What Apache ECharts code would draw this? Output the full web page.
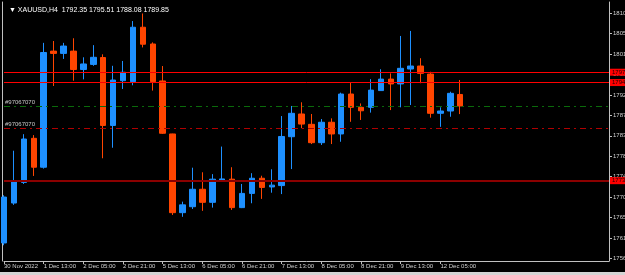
<!DOCTYPE html>
<html>
<head>
<meta charset="utf-8">
<script src="https://cdn.jsdelivr.net/npm/echarts@6/dist/echarts.min.js"></script>
<style>
    html, body { margin: 0; padding: 0; background: #000; }
    #chart { width: 625px; height: 275px; }
</style>
</head>
<body>
<div id="chart"></div>
<script>
// H4 bars, XAUUSD
var barTimes = [
    '30 Nov 21:00',
    '1 Dec 01:00', '1 Dec 05:00', '1 Dec 09:00', '1 Dec 13:00', '1 Dec 17:00', '1 Dec 21:00',
    '2 Dec 01:00', '2 Dec 05:00', '2 Dec 09:00', '2 Dec 13:00', '2 Dec 17:00', '2 Dec 21:00',
    '5 Dec 01:00', '5 Dec 05:00', '5 Dec 09:00', '5 Dec 13:00', '5 Dec 17:00', '5 Dec 21:00',
    '6 Dec 01:00', '6 Dec 05:00', '6 Dec 09:00', '6 Dec 13:00', '6 Dec 17:00', '6 Dec 21:00',
    '7 Dec 01:00', '7 Dec 05:00', '7 Dec 09:00', '7 Dec 13:00', '7 Dec 17:00', '7 Dec 21:00',
    '8 Dec 01:00', '8 Dec 05:00', '8 Dec 09:00', '8 Dec 13:00', '8 Dec 17:00', '8 Dec 21:00',
    '9 Dec 01:00', '9 Dec 05:00', '9 Dec 09:00', '9 Dec 13:00', '9 Dec 17:00', '9 Dec 21:00',
    '12 Dec 01:00', '12 Dec 05:00', '12 Dec 09:00', '12 Dec 13:00'
];
var firstLabel = '30 Nov 2022';
var emptySlots = 15; // space right of the last bar

var opens = [1760.0, 1768.7, 1773.2, 1782.8, 1776.5, 1801.8, 1801.3, 1801.8, 1797.8, 1798.9,
    1800.4, 1785.6, 1795.35, 1795.15, 1807.0, 1803.35, 1795.3, 1783.75, 1766.6, 1767.9,
    1771.7, 1768.85, 1773.7, 1773.9, 1767.7, 1770.8, 1774.1, 1772.2, 1772.5, 1783.15,
    1788.1, 1785.85, 1781.85, 1786.3, 1783.75, 1792.45, 1789.55, 1789.55, 1793.2, 1795.7,
    1794.65, 1797.9, 1798.55, 1796.8, 1788.25, 1788.75, 1792.35];
var closes = [1770.0, 1773.5, 1782.65, 1776.5, 1801.5, 1801.3, 1802.9, 1797.8, 1799.0, 1800.45,
    1785.6, 1795.5, 1797.2, 1807.0, 1803.3, 1795.15, 1783.9, 1766.6, 1768.3, 1771.7,
    1768.85, 1773.9, 1773.95, 1767.7, 1770.8, 1774.1, 1772.1, 1772.6, 1783.2, 1788.25,
    1785.9, 1781.85, 1786.3, 1783.75, 1792.45, 1789.55, 1788.8, 1793.3, 1795.7, 1794.65,
    1798.05, 1798.55, 1796.95, 1788.25, 1788.75, 1792.6, 1789.85];
var lows = [1759.5, 1768.3, 1772.85, 1774.6, 1776.2, 1794.2, 1800.1, 1795.35, 1795.65, 1798.6,
    1778.45, 1780.75, 1793.55, 1794.35, 1802.6, 1793.2, 1783.75, 1766.1, 1765.7, 1767.4,
    1767.0, 1767.7, 1773.6, 1767.2, 1767.6, 1768.65, 1769.6, 1770.95, 1770.65, 1776.1,
    1785.0, 1781.55, 1781.35, 1781.55, 1782.05, 1786.4, 1786.8, 1788.4, 1793.2, 1788.95,
    1789.55, 1790.05, 1794.8, 1787.3, 1785.3, 1787.5, 1788.08];
var highs = [1770.4, 1780.1, 1783.7, 1783.5, 1803.6, 1804.0, 1803.6, 1804.6, 1800.45, 1803.1,
    1801.1, 1798.6, 1799.65, 1808.35, 1810.0, 1803.7, 1798.55, 1783.8, 1769.0, 1776.4,
    1775.4, 1775.0, 1781.0, 1776.5, 1772.85, 1775.2, 1774.65, 1776.05, 1787.65, 1789.85,
    1790.65, 1788.1, 1787.0, 1787.15, 1792.75, 1795.0, 1790.4, 1795.7, 1797.85, 1796.95,
    1805.1, 1806.2, 1800.25, 1797.3, 1789.55, 1792.95, 1795.51];

var priceTicks = [1756.65, 1761.10, 1765.55, 1770.00, 1774.45, 1778.90, 1783.35,
    1787.80, 1792.25, 1796.70, 1801.15, 1805.60, 1810.05];

var redLevels = [1797.20, 1794.95];
var supportLevel = 1773.57;
var greenDashLevel = 1789.75;
var redDashLevel = 1785.00;
var bidPrice = 1789.85;
var objName = '#97067070';
var titleText = '\u25BC XAUUSD,H4  1792.35 1795.51 1788.08 1789.85';

var FONT = '"Liberation Sans", Arial, sans-serif';
var AXIS_GRAY = '#c0c0c0';
var BULL = '#1e90ff';
var BEAR = '#ff4500';

var categories = barTimes.slice();
for (var i = 0; i < emptySlots; i++) categories.push('');

var ohlc = [];
for (var k = 0; k < barTimes.length; k++) {
    ohlc.push([opens[k], closes[k], lows[k], highs[k]]);
}

function showTick(idx) {
    return idx % 4 === 0 && idx < barTimes.length;
}

function boxLabel(bg, fg) {
    return {
        show: true,
        position: 'end',
        distance: 1,
        formatter: function (p) { return p.value.toFixed(2); },
        backgroundColor: bg,
        color: fg,
        fontSize: 6,
        fontFamily: FONT,
        padding: [1, 2, 0, 2]
    };
}

var chart = echarts.init(document.getElementById('chart'));
var option = {
    backgroundColor: '#000000',
    animation: false,
    title: {
        text: titleText,
        left: 4,
        top: 2,
        textStyle: { color: '#ffffff', fontSize: 7, fontWeight: 'normal', fontFamily: FONT }
    },
    grid: { left: 4, right: 16, top: 2, bottom: 14, outerBoundsMode: 'none', containLabel: false },
    xAxis: {
        type: 'category',
        data: categories,
        boundaryGap: false,
        axisLine: { lineStyle: { color: AXIS_GRAY } },
        axisTick: { show: true, interval: showTick, length: 3, lineStyle: { color: AXIS_GRAY } },
        axisLabel: {
            interval: showTick,
            align: 'left',
            margin: 2,
            color: '#d0d0d0',
            fontSize: 6,
            fontFamily: FONT,
            formatter: function (val, idx) { return idx === 0 ? firstLabel : val; }
        },
        splitLine: { show: false }
    },
    yAxis: [
        {
            type: 'value',
            position: 'right',
            min: 1756.07,
            max: 1812.5,
            axisLine: { show: true, lineStyle: { color: AXIS_GRAY } },
            axisTick: { show: true, length: 3, customValues: priceTicks, lineStyle: { color: AXIS_GRAY } },
            axisLabel: {
                customValues: priceTicks,
                margin: 4,
                color: '#d0d0d0',
                fontSize: 6,
                fontFamily: FONT,
                formatter: function (v) { return v.toFixed(2); }
            },
            splitLine: { show: false }
        },
        {
            // left frame line
            type: 'value',
            position: 'left',
            offset: 2,
            min: 1756.07,
            max: 1812.5,
            axisLine: { show: true, lineStyle: { color: AXIS_GRAY } },
            axisTick: { show: false },
            axisLabel: { show: false },
            splitLine: { show: false }
        }
    ],
    graphic: [
        { type: 'rect', left: 0, bottom: 0, shape: { width: 625, height: 3 }, style: { fill: '#d4d4d4' } }
    ],
    series: [
        {
            type: 'candlestick',
            data: ohlc,
            barWidth: 6,
            clip: true,
            itemStyle: {
                color: BULL,
                color0: BEAR,
                borderColor: BULL,
                borderColor0: BEAR,
                borderWidth: 1
            },
            markLine: {
                silent: true,
                symbol: 'none',
                animation: false,
                data: [
                    { yAxis: redLevels[0], lineStyle: { color: '#ff0000', width: 1, type: 'solid' }, label: boxLabel('#ff0000', '#200000') },
                    { yAxis: redLevels[1], lineStyle: { color: '#ff0000', width: 1, type: 'solid' }, label: boxLabel('#ff0000', '#200000') },
                    {
                        yAxis: greenDashLevel,
                        lineStyle: { color: '#0a6a0a', width: 1, type: [6, 4, 2, 4] },
                        label: { show: true, position: 'insideStartTop', distance: 1, formatter: objName, color: '#c8c8c8', fontSize: 6, fontFamily: FONT }
                    },
                    { yAxis: bidPrice, lineStyle: { opacity: 0 }, label: boxLabel('#ffffff', '#000000') },
                    {
                        yAxis: redDashLevel,
                        lineStyle: { color: '#b00000', width: 1, type: [6, 4, 2, 4] },
                        label: { show: true, position: 'insideStartTop', distance: 1, formatter: objName, color: '#c8c8c8', fontSize: 6, fontFamily: FONT }
                    },
                    { yAxis: supportLevel, lineStyle: { color: '#8b0000', width: 2, type: 'solid' }, label: boxLabel('#ff0000', '#200000') }
                ]
            }
        }
    ]
};
chart.setOption(option);
</script>
</body>
</html>
